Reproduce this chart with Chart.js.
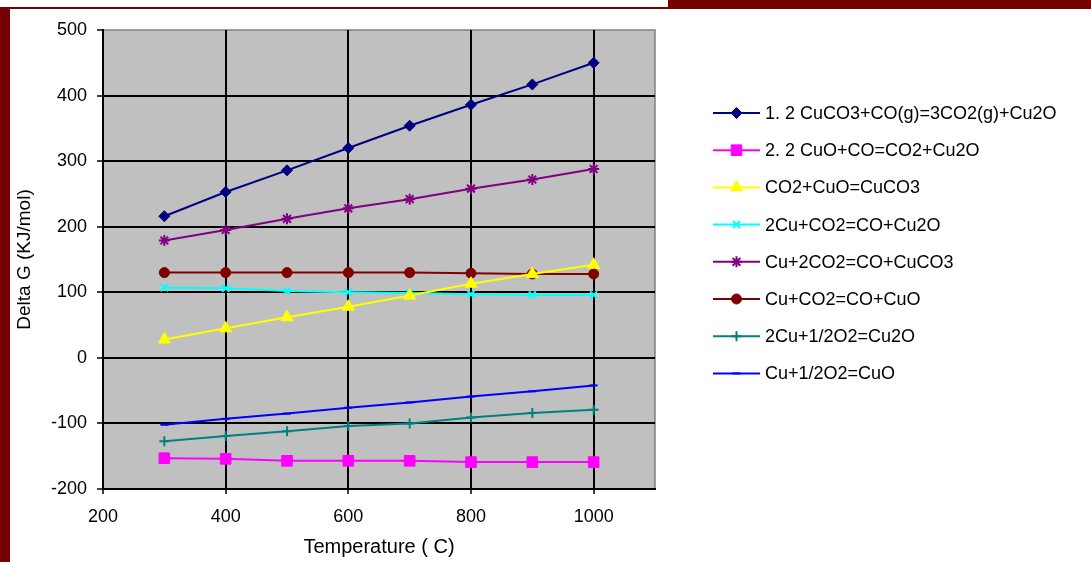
<!DOCTYPE html>
<html>
<head>
<meta charset="utf-8">
<script src="https://cdn.jsdelivr.net/npm/chart.js@4.4.1/dist/chart.umd.min.js"></script>
<style>
  html, body { margin: 0; padding: 0; background: #fff; }
  #wrap { position: relative; width: 1091px; height: 562px; overflow: hidden; background: #fff; }
  #chart { position: absolute; left: 0; top: 0; }
  .frame { position: absolute; background: #760000; z-index: 5; }
</style>
</head>
<body>
<div id="wrap">
  <canvas id="chart" width="1091" height="562"></canvas>
  <div class="frame" style="left:0;top:7px;width:668px;height:2px;"></div>
  <div class="frame" style="left:668px;top:0;width:423px;height:9px;"></div>
  <div class="frame" style="left:0;top:7px;width:10px;height:555px;"></div>
</div>
<script>
// ---- data ----
const temperatures = [300, 400, 500, 600, 700, 800, 900, 1000];
const seriesNames = [
  '1. 2 CuCO3+CO(g)=3CO2(g)+Cu2O',
  '2. 2 CuO+CO=CO2+Cu2O',
  'CO2+CuO=CuCO3',
  '2Cu+CO2=CO+Cu2O',
  'Cu+2CO2=CO+CuCO3',
  'Cu+CO2=CO+CuO',
  '2Cu+1/2O2=Cu2O',
  'Cu+1/2O2=CuO'
];
const s1 = [216, 253, 286, 320, 354, 386, 417, 450];
const s2 = [-153, -154, -157, -157, -157, -159, -159, -159];
const s3 = [28, 45, 62, 78, 95, 113, 128, 142];
const s4 = [107, 106, 102, 100, 99, 97, 96, 96];
const s5 = [179, 195, 212, 228, 242, 258, 272, 288];
const s6 = [130, 130, 130, 130, 130, 129, 128, 128];
const s7 = [-127, -119, -112, -104, -100, -91, -84, -79];
const s8 = [-102, -93, -85, -76, -68, -59, -51, -42];
const xTickMin = 200, xTickMax = 1100, xStep = 200;
const yTickMin = -200, yTickMax = 500, yStep = 100;

const seriesValues = [s1, s2, s3, s4, s5, s6, s7, s8];
const colors = ['#000080', '#FF00FF', '#FFFF00', '#00FFFF', '#800080', '#800000', '#008080', '#0000FF'];
const styles = ['rectRot', 'rect', 'triangle', 'crossRot', 'star', 'circle', 'cross', 'line'];
const radii = [5.5, 7.5, 7, 5, 5.5, 5, 5, 4];

const datasets = seriesValues.map((vals, i) => ({
  label: seriesNames[i],
  data: temperatures.map((t, j) => ({ x: t, y: vals[j] })),
  borderColor: colors[i],
  backgroundColor: colors[i],
  borderWidth: 2,
  pointStyle: styles[i],
  pointRadius: radii[i],
  pointBorderWidth: (styles[i] === 'crossRot' || styles[i] === 'star' || styles[i] === 'cross' || styles[i] === 'line') ? 2 : 1,
  pointHoverRadius: radii[i],
  tension: 0,
  fill: false
}));

const FONT = 'Liberation Sans, Arial, sans-serif';

const plotBg = {
  id: 'plotBg',
  beforeDraw(chart) {
    const { ctx, chartArea: a } = chart;
    ctx.save();
    ctx.fillStyle = '#c0c0c0';
    ctx.fillRect(a.left, a.top, a.right - a.left, a.bottom - a.top);
    ctx.strokeStyle = '#808080';
    ctx.lineWidth = 1.5;
    ctx.strokeRect(a.left, a.top, a.right - a.left, a.bottom - a.top);
    ctx.restore();
  }
};

const customLegend = {
  id: 'customLegend',
  afterDraw(chart) {
    const ctx = chart.ctx;
    ctx.save();
    chart.data.datasets.forEach((ds, i) => {
      const y = 113 + i * 37.2;
      const x0 = 713, x1 = 760, xm = 736.5;
      ctx.strokeStyle = ds.borderColor;
      ctx.lineWidth = 2;
      ctx.beginPath();
      ctx.moveTo(x0, y);
      ctx.lineTo(x1, y);
      ctx.stroke();
      ctx.fillStyle = ds.backgroundColor;
      ctx.strokeStyle = ds.borderColor;
      ctx.lineWidth = ds.pointBorderWidth;
      if (Chart.helpers && Chart.helpers.drawPoint) {
        Chart.helpers.drawPoint(ctx, { pointStyle: ds.pointStyle, radius: ds.pointRadius, rotation: 0, borderWidth: ds.pointBorderWidth }, xm, y);
      }
      ctx.fillStyle = '#000';
      ctx.font = '18px ' + FONT;
      ctx.textBaseline = 'middle';
      ctx.textAlign = 'left';
      ctx.fillText(ds.label, 765, y + 1);
    });
    ctx.restore();
  }
};

new Chart(document.getElementById('chart'), {
  type: 'line',
  data: { datasets },
  options: {
    responsive: false,
    animation: false,
    events: [],
    layout: { padding: { left: 10, right: 436, top: 30, bottom: 2 } },
    plugins: { legend: { display: false }, tooltip: { enabled: false } },
    scales: {
      x: {
        type: 'linear',
        min: xTickMin,
        max: xTickMax,
        afterFit(scale) { scale.height = 71; },
        ticks: {
          stepSize: xStep,
          includeBounds: false,
          color: '#000',
          font: { family: FONT, size: 18 },
          padding: 12,
          maxRotation: 0,
          callback: (v) => String(v)
        },
        grid: {
          color: '#000',
          lineWidth: 2,
          tickLength: 5,
          tickColor: '#000',
          tickWidth: 1.5
        },
        border: { display: true, color: '#000', width: 2 },
        title: {
          display: true,
          text: 'Temperature ( C)',
          color: '#000',
          font: { family: FONT, size: 20 },
          padding: { top: 0, bottom: 1 }
        }
      },
      y: {
        type: 'linear',
        min: yTickMin,
        max: yTickMax,
        afterFit(scale) { scale.width = 93; },
        ticks: {
          stepSize: yStep,
          color: '#000',
          font: { family: FONT, size: 18 },
          padding: 10,
          callback: (v) => String(v)
        },
        grid: {
          color: (c) => (c.tick && c.tick.value === yTickMax) ? 'rgba(0,0,0,0)' : '#000',
          lineWidth: 2,
          tickLength: 6,
          tickColor: '#000',
          tickWidth: 1.5
        },
        border: { display: true, color: '#000', width: 2 },
        title: {
          display: true,
          text: 'Delta G (KJ/mol)',
          color: '#000',
          font: { family: FONT, size: 19 },
          padding: { top: 3, bottom: 0 }
        }
      }
    }
  },
  plugins: [plotBg, customLegend]
});
</script>
</body>
</html>
